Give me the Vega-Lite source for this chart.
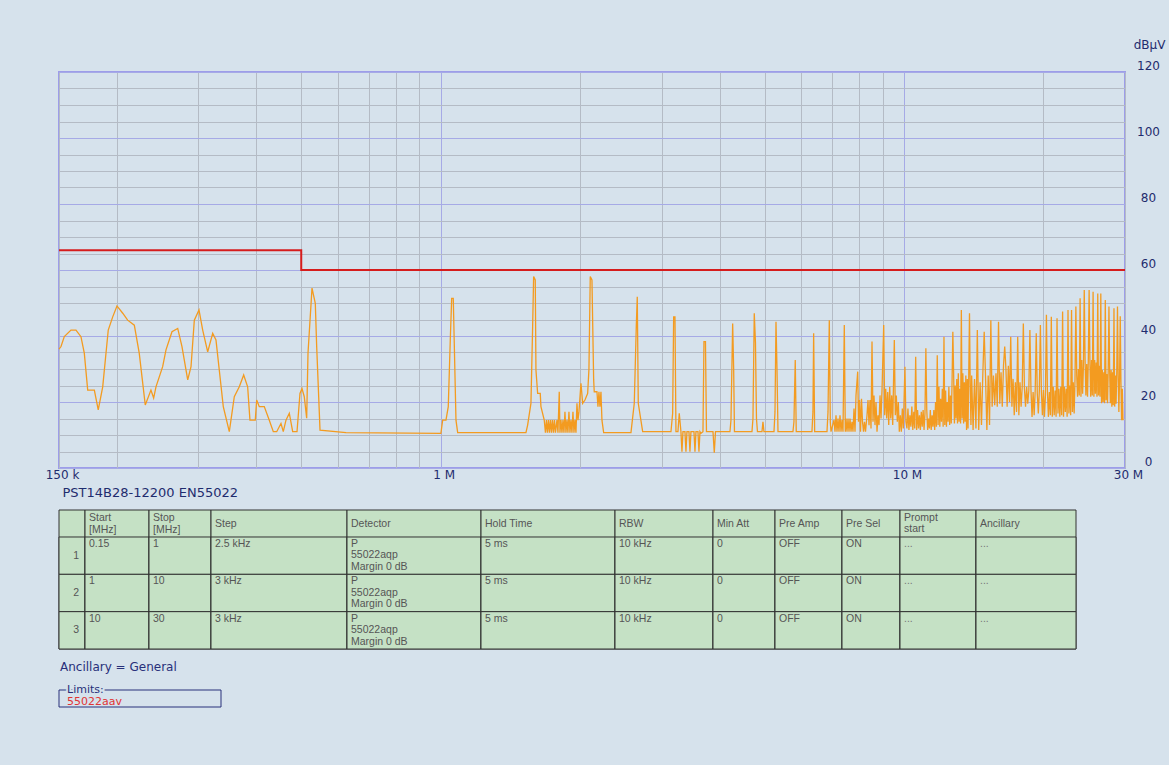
{
"$schema":"https://vega.github.io/schema/vega-lite/v6.json",
"padding":{"left":44,"top":37,"right":4,"bottom":57},
"background":"#d6e2ec",
"spacing":9,
"config":{"view":{"stroke":null},"font":"DejaVu Sans"},
"datasets":{
"trace":[
{"mhz":0.15,"dbuv":36},{"mhz":0.1515,"dbuv":36.8},{"mhz":0.154,"dbuv":39.8},{"mhz":0.1592,"dbuv":41.8},{"mhz":0.1632,"dbuv":41.8},{"mhz":0.1673,"dbuv":39.8},{"mhz":0.1701,"dbuv":34.8},{"mhz":0.173,"dbuv":23.6},{"mhz":0.1788,"dbuv":23.6},{"mhz":0.1823,"dbuv":17.6},{"mhz":0.1864,"dbuv":24.6},{"mhz":0.1916,"dbuv":41.8},{"mhz":0.1959,"dbuv":45.8},{"mhz":0.2001,"dbuv":49.1},{"mhz":0.2059,"dbuv":46.9},{"mhz":0.211,"dbuv":44.8},{"mhz":0.2181,"dbuv":43.3},{"mhz":0.2235,"dbuv":34.8},{"mhz":0.2303,"dbuv":19.1},{"mhz":0.2369,"dbuv":23.6},{"mhz":0.2401,"dbuv":21.2},{"mhz":0.2429,"dbuv":24.6},{"mhz":0.2511,"dbuv":30.7},{"mhz":0.2553,"dbuv":35.8},{"mhz":0.263,"dbuv":41.3},{"mhz":0.2706,"dbuv":42.3},{"mhz":0.2764,"dbuv":36.8},{"mhz":0.2844,"dbuv":26.7},{"mhz":0.2891,"dbuv":30.7},{"mhz":0.2939,"dbuv":44.8},{"mhz":0.3008,"dbuv":47.9},{"mhz":0.3064,"dbuv":41.8},{"mhz":0.3141,"dbuv":35.2},{"mhz":0.322,"dbuv":40.8},{"mhz":0.3273,"dbuv":38.8},{"mhz":0.3327,"dbuv":29.7},{"mhz":0.3394,"dbuv":18.6},{"mhz":0.3497,"dbuv":11},{"mhz":0.3585,"dbuv":21.6},{"mhz":0.3675,"dbuv":24.6},{"mhz":0.3756,"dbuv":28.2},{"mhz":0.3831,"dbuv":24.6},{"mhz":0.3875,"dbuv":14.5},{"mhz":0.3979,"dbuv":14.5},{"mhz":0.4007,"dbuv":20.6},{"mhz":0.4059,"dbuv":18.6},{"mhz":0.4161,"dbuv":18.6},{"mhz":0.4266,"dbuv":14.5},{"mhz":0.4352,"dbuv":11},{"mhz":0.4426,"dbuv":11},{"mhz":0.4521,"dbuv":13.5},{"mhz":0.4573,"dbuv":11},{"mhz":0.4635,"dbuv":14.5},{"mhz":0.4712,"dbuv":16.6},{"mhz":0.4792,"dbuv":11},{"mhz":0.4896,"dbuv":11},{"mhz":0.4969,"dbuv":22.6},{"mhz":0.5019,"dbuv":24.1},{"mhz":0.5076,"dbuv":21.6},{"mhz":0.5137,"dbuv":15.1},{"mhz":0.5171,"dbuv":34.8},{"mhz":0.5275,"dbuv":54.5},{"mhz":0.5362,"dbuv":49.9},{"mhz":0.5399,"dbuv":36.8},{"mhz":0.5489,"dbuv":11.5},{"mhz":0.6246,"dbuv":10.7},{"mhz":1.001,"dbuv":10.5},
{"mhz":1.0099,"dbuv":14.5},{"mhz":1.0266,"dbuv":14.5},{"mhz":1.0384,"dbuv":18.6},{"mhz":1.0488,"dbuv":38.8},{"mhz":1.0561,"dbuv":51.4},{"mhz":1.0645,"dbuv":51.4},{"mhz":1.0698,"dbuv":37.8},{"mhz":1.0789,"dbuv":14.5},{"mhz":1.0881,"dbuv":10.7},{"mhz":1.5276,"dbuv":10.7},{"mhz":1.5405,"dbuv":13},{"mhz":1.566,"dbuv":19.6},{"mhz":1.5793,"dbuv":42.8},{"mhz":1.5872,"dbuv":58},{"mhz":1.6,"dbuv":57},{"mhz":1.6055,"dbuv":29.7},{"mhz":1.6191,"dbuv":22.6},{"mhz":1.6402,"dbuv":22.6},{"mhz":1.6459,"dbuv":18.6},{"mhz":1.6732,"dbuv":14.5},
{"mhz":1.6832,"dbuv":10.7},{"mhz":1.6916,"dbuv":14.5},{"mhz":1.7,"dbuv":10.7},{"mhz":1.7085,"dbuv":14.5},{"mhz":1.717,"dbuv":10.7},{"mhz":1.7256,"dbuv":14.5},{"mhz":1.7342,"dbuv":10.7},{"mhz":1.7428,"dbuv":14.5},{"mhz":1.7515,"dbuv":10.7},{"mhz":1.7602,"dbuv":14.5},{"mhz":1.769,"dbuv":10.7},{"mhz":1.7822,"dbuv":14.5},{"mhz":1.7911,"dbuv":10.7},{"mhz":1.8027,"dbuv":23.1},{"mhz":1.809,"dbuv":10.7},{"mhz":1.818,"dbuv":14.5},{"mhz":1.8271,"dbuv":10.7},{"mhz":1.8362,"dbuv":14.5},{"mhz":1.8453,"dbuv":10.7},{"mhz":1.8545,"dbuv":17},{"mhz":1.8637,"dbuv":10.7},{"mhz":1.873,"dbuv":14.5},{"mhz":1.8823,"dbuv":10.7},{"mhz":1.8917,"dbuv":17},{"mhz":1.9011,"dbuv":10.7},{"mhz":1.9106,"dbuv":14.5},{"mhz":1.9201,"dbuv":10.7},{"mhz":1.9297,"dbuv":17},{"mhz":1.9393,"dbuv":10.7},{"mhz":1.949,"dbuv":14.5},{"mhz":1.9587,"dbuv":10.7},{"mhz":1.9685,"dbuv":19.6},{"mhz":1.9783,"dbuv":14.5},{"mhz":1.9881,"dbuv":17},{"mhz":2.008,"dbuv":25.7},{"mhz":2.025,"dbuv":19.6},{"mhz":2.0483,"dbuv":20.6},{"mhz":2.076,"dbuv":22.6},{"mhz":2.0894,"dbuv":30},{"mhz":2.103,"dbuv":58},{"mhz":2.1208,"dbuv":57},{"mhz":2.1389,"dbuv":26.7},{"mhz":2.1452,"dbuv":23.1},{"mhz":2.1742,"dbuv":23.1},{"mhz":2.1851,"dbuv":18.6},{"mhz":2.196,"dbuv":23.1},{"mhz":2.2069,"dbuv":18.6},{"mhz":2.2179,"dbuv":23.1},{"mhz":2.2289,"dbuv":14.5},{"mhz":2.2478,"dbuv":10.7},{"mhz":2.5747,"dbuv":10.7},{"mhz":2.6173,"dbuv":19.6},{"mhz":2.6434,"dbuv":42.8},{"mhz":2.6566,"dbuv":51.9},{"mhz":2.6698,"dbuv":19.6},{"mhz":2.7289,"dbuv":11},{"mhz":3.1408,"dbuv":11},{"mhz":3.1675,"dbuv":16.6},{"mhz":3.1832,"dbuv":45.8},{"mhz":3.2039,"dbuv":45.8},{"mhz":3.2198,"dbuv":11},{"mhz":3.2519,"dbuv":11},{"mhz":3.273,"dbuv":16.6},{"mhz":3.3007,"dbuv":11},{"mhz":3.3172,"dbuv":4.9},{"mhz":3.3337,"dbuv":11},{"mhz":3.367,"dbuv":11},{"mhz":3.3838,"dbuv":4.9},{"mhz":3.4007,"dbuv":11},{"mhz":3.4346,"dbuv":11},{"mhz":3.4517,"dbuv":4.9},{"mhz":3.4689,"dbuv":11},{"mhz":3.5212,"dbuv":11},{"mhz":3.5388,"dbuv":4.9},{"mhz":3.5564,"dbuv":11},{"mhz":3.592,"dbuv":11},{"mhz":3.6099,"dbuv":4.9},{"mhz":3.6279,"dbuv":11},{"mhz":3.646,"dbuv":10.5},
{"mhz":3.6824,"dbuv":11},{"mhz":3.7008,"dbuv":38.3},{"mhz":3.7284,"dbuv":38.3},{"mhz":3.747,"dbuv":11},{"mhz":3.8703,"dbuv":11},{"mhz":3.8954,"dbuv":4.6},{"mhz":3.9188,"dbuv":11},{"mhz":4.2113,"dbuv":11},{"mhz":4.2323,"dbuv":14.5},{"mhz":4.2681,"dbuv":43.8},{"mhz":4.2894,"dbuv":30},{"mhz":4.3065,"dbuv":11},{"mhz":4.6979,"dbuv":11},{"mhz":4.7213,"dbuv":15},{"mhz":4.7518,"dbuv":46.9},{"mhz":4.7802,"dbuv":38},{"mhz":4.804,"dbuv":15},{"mhz":4.828,"dbuv":11},{"mhz":4.9373,"dbuv":11},{"mhz":4.9619,"dbuv":14},{"mhz":4.9867,"dbuv":11},{"mhz":5.2413,"dbuv":11},{"mhz":5.2674,"dbuv":17},{"mhz":5.2937,"dbuv":44.3},{"mhz":5.3201,"dbuv":30},{"mhz":5.3466,"dbuv":11},{"mhz":5.7592,"dbuv":11},{"mhz":5.7879,"dbuv":14},{"mhz":5.8255,"dbuv":32.7},{"mhz":5.8545,"dbuv":11},{"mhz":6.3296,"dbuv":11},{"mhz":6.3611,"dbuv":17},{"mhz":6.3833,"dbuv":40.8},{"mhz":6.4151,"dbuv":11},{"mhz":6.8213,"dbuv":11},{"mhz":6.8553,"dbuv":17},{"mhz":6.8997,"dbuv":44.8},{"mhz":6.9341,"dbuv":14},{"mhz":6.9583,"dbuv":11},
{"mhz":7.0627,"dbuv":14.5},{"mhz":7.0979,"dbuv":11},{"mhz":7.1333,"dbuv":16},{"mhz":7.1688,"dbuv":11},{"mhz":7.2046,"dbuv":15},{"mhz":7.2405,"dbuv":11},{"mhz":7.2766,"dbuv":16},{"mhz":7.3128,"dbuv":11},{"mhz":7.3493,"dbuv":14.5},{"mhz":7.3859,"dbuv":11},{"mhz":7.4339,"dbuv":43.3},{"mhz":7.4709,"dbuv":11},{"mhz":7.497,"dbuv":15},{"mhz":7.5343,"dbuv":11},{"mhz":7.5719,"dbuv":15},{"mhz":7.6096,"dbuv":11},{"mhz":7.6475,"dbuv":15},{"mhz":7.6856,"dbuv":11},{"mhz":7.7239,"dbuv":14},{"mhz":7.7624,"dbuv":11},{"mhz":7.8011,"dbuv":18},{"mhz":7.84,"dbuv":11},{"mhz":7.8791,"dbuv":22},{"mhz":7.946,"dbuv":29.2},{"mhz":7.9777,"dbuv":14},{"mhz":8.0174,"dbuv":20.6},{"mhz":8.0574,"dbuv":11},{"mhz":8.0975,"dbuv":21},{"mhz":8.1379,"dbuv":14},{"mhz":8.1785,"dbuv":11},{"mhz":8.2192,"dbuv":14},{"mhz":8.2602,"dbuv":11},{"mhz":8.322,"dbuv":16},{"mhz":8.3635,"dbuv":20.6},{"mhz":8.4052,"dbuv":13},{"mhz":8.447,"dbuv":20.6},{"mhz":8.4891,"dbuv":12},{"mhz":8.5314,"dbuv":38.3},{"mhz":8.574,"dbuv":14},{"mhz":8.6167,"dbuv":22},{"mhz":8.6597,"dbuv":13},{"mhz":8.7028,"dbuv":20},{"mhz":8.7462,"dbuv":11},{"mhz":8.7898,"dbuv":16},{"mhz":8.8336,"dbuv":13},{"mhz":8.8776,"dbuv":22},{"mhz":8.9219,"dbuv":15},{"mhz":8.9663,"dbuv":23.6},{"mhz":9.0425,"dbuv":43.3},{"mhz":9.0875,"dbuv":16},{"mhz":9.1328,"dbuv":24},{"mhz":9.1783,"dbuv":15},{"mhz":9.2241,"dbuv":23},{"mhz":9.2701,"dbuv":13},{"mhz":9.3163,"dbuv":24.6},{"mhz":9.3627,"dbuv":15},{"mhz":9.4094,"dbuv":22},{"mhz":9.4563,"dbuv":13},{"mhz":9.5319,"dbuv":38.8},{"mhz":9.5794,"dbuv":16},{"mhz":9.6271,"dbuv":22},{"mhz":9.6751,"dbuv":14},{"mhz":9.7233,"dbuv":20},{"mhz":9.7718,"dbuv":11},{"mhz":9.8205,"dbuv":16},{"mhz":9.8694,"dbuv":11},{"mhz":9.9186,"dbuv":18},{"mhz":9.968,"dbuv":12},{"mhz":10.049,"dbuv":30.7},{"mhz":10.098,"dbuv":14},
{"mhz":10.15,"dbuv":12},{"mhz":10.2,"dbuv":18},{"mhz":10.25,"dbuv":11.5},{"mhz":10.3,"dbuv":16},{"mhz":10.35,"dbuv":12.5},{"mhz":10.4,"dbuv":18.6},{"mhz":10.45,"dbuv":11.5},{"mhz":10.5,"dbuv":17},{"mhz":10.55,"dbuv":12},{"mhz":10.6,"dbuv":33.7},{"mhz":10.65,"dbuv":11.5},{"mhz":10.7,"dbuv":17.6},{"mhz":10.75,"dbuv":12},{"mhz":10.8,"dbuv":16},{"mhz":10.85,"dbuv":11.5},{"mhz":10.9,"dbuv":17},{"mhz":10.95,"dbuv":12.5},{"mhz":11.0,"dbuv":17.6},{"mhz":11.05,"dbuv":11.5},{"mhz":11.1,"dbuv":16.5},{"mhz":11.15,"dbuv":36.3},{"mhz":11.2,"dbuv":17.6},{"mhz":11.25,"dbuv":11.5},{"mhz":11.3,"dbuv":15},{"mhz":11.35,"dbuv":12},{"mhz":11.4,"dbuv":17.6},{"mhz":11.45,"dbuv":11.5},{"mhz":11.5,"dbuv":16},{"mhz":11.55,"dbuv":12.5},{"mhz":11.6,"dbuv":17.6},{"mhz":11.65,"dbuv":11.5},{"mhz":11.7,"dbuv":20},{"mhz":11.75,"dbuv":12.5},{"mhz":11.8,"dbuv":34.2},{"mhz":11.85,"dbuv":13},{"mhz":11.9,"dbuv":24.6},{"mhz":11.95,"dbuv":12.5},{"mhz":12.0,"dbuv":21},{"mhz":12.05,"dbuv":14},{"mhz":12.1,"dbuv":24},{"mhz":12.15,"dbuv":12.5},{"mhz":12.2,"dbuv":39.8},{"mhz":12.25,"dbuv":13},{"mhz":12.3,"dbuv":23.5},{"mhz":12.35,"dbuv":12.5},{"mhz":12.4,"dbuv":20},{"mhz":12.45,"dbuv":14},{"mhz":12.5,"dbuv":24.6},{"mhz":12.55,"dbuv":13},{"mhz":12.6,"dbuv":22},{"mhz":12.65,"dbuv":13.5},{"mhz":12.7,"dbuv":26},{"mhz":12.75,"dbuv":41.3},{"mhz":12.8,"dbuv":28.7},{"mhz":12.85,"dbuv":13.5},{"mhz":12.9,"dbuv":25},{"mhz":12.95,"dbuv":15},{"mhz":13.0,"dbuv":27},{"mhz":13.05,"dbuv":13.5},{"mhz":13.1,"dbuv":28.7},{"mhz":13.15,"dbuv":14},{"mhz":13.2,"dbuv":24},{"mhz":13.25,"dbuv":13.5},{"mhz":13.3,"dbuv":47.9},{"mhz":13.35,"dbuv":15},{"mhz":13.4,"dbuv":28.7},{"mhz":13.45,"dbuv":13.5},{"mhz":13.5,"dbuv":26},{"mhz":13.55,"dbuv":14},{"mhz":13.6,"dbuv":28},{"mhz":13.65,"dbuv":11.5},{"mhz":13.7,"dbuv":27},{"mhz":13.75,"dbuv":12},{"mhz":13.8,"dbuv":28.7},{"mhz":13.85,"dbuv":46.9},{"mhz":13.9,"dbuv":25},{"mhz":13.95,"dbuv":13},{"mhz":14.0,"dbuv":28},
{"mhz":14.1,"dbuv":11.5},{"mhz":14.2,"dbuv":27},{"mhz":14.3,"dbuv":12},{"mhz":14.4,"dbuv":41.8},{"mhz":14.5,"dbuv":11.5},{"mhz":14.6,"dbuv":26},{"mhz":14.7,"dbuv":13},{"mhz":14.8,"dbuv":28.7},{"mhz":14.9,"dbuv":41.3},{"mhz":15.0,"dbuv":27.5},{"mhz":15.1,"dbuv":11.5},{"mhz":15.2,"dbuv":28},{"mhz":15.3,"dbuv":13},{"mhz":15.4,"dbuv":44.8},{"mhz":15.5,"dbuv":18.6},{"mhz":15.6,"dbuv":28},{"mhz":15.7,"dbuv":19},{"mhz":15.8,"dbuv":28.7},{"mhz":15.9,"dbuv":18.6},{"mhz":16.0,"dbuv":44.3},{"mhz":16.1,"dbuv":19.5},{"mhz":16.2,"dbuv":29},{"mhz":16.3,"dbuv":18.6},{"mhz":16.4,"dbuv":31},{"mhz":16.5,"dbuv":36.8},{"mhz":16.6,"dbuv":30},{"mhz":16.7,"dbuv":18.6},{"mhz":16.8,"dbuv":31},{"mhz":16.9,"dbuv":20},{"mhz":17.0,"dbuv":39.8},{"mhz":17.1,"dbuv":18.6},{"mhz":17.2,"dbuv":27},{"mhz":17.3,"dbuv":16},{"mhz":17.4,"dbuv":26},{"mhz":17.5,"dbuv":17},{"mhz":17.6,"dbuv":39.8},{"mhz":17.7,"dbuv":16},{"mhz":17.8,"dbuv":26},{"mhz":17.9,"dbuv":18.6},{"mhz":18.0,"dbuv":24.6},{"mhz":18.1,"dbuv":43.8},{"mhz":18.2,"dbuv":24},{"mhz":18.3,"dbuv":18.6},{"mhz":18.4,"dbuv":24.6},{"mhz":18.5,"dbuv":19.5},{"mhz":18.6,"dbuv":23.5},{"mhz":18.7,"dbuv":41.8},{"mhz":18.8,"dbuv":23.6},{"mhz":18.9,"dbuv":15.5},{"mhz":19.0,"dbuv":23},{"mhz":19.1,"dbuv":16},{"mhz":19.2,"dbuv":23.6},{"mhz":19.3,"dbuv":40.8},{"mhz":19.4,"dbuv":22.5},{"mhz":19.5,"dbuv":16.5},{"mhz":19.6,"dbuv":23.6},{"mhz":19.7,"dbuv":43.3},{"mhz":19.8,"dbuv":23},{"mhz":19.9,"dbuv":16},{"mhz":20.0,"dbuv":23.6},{"mhz":20.1,"dbuv":15.5},{"mhz":20.2,"dbuv":22},{"mhz":20.3,"dbuv":46.4},{"mhz":20.4,"dbuv":23.6},{"mhz":20.5,"dbuv":15.5},{"mhz":20.6,"dbuv":23},{"mhz":20.7,"dbuv":16},{"mhz":20.8,"dbuv":45.8},{"mhz":20.9,"dbuv":15.5},{"mhz":21.0,"dbuv":24.6},{"mhz":21.1,"dbuv":16},{"mhz":21.2,"dbuv":23.5},{"mhz":21.3,"dbuv":15.5},{"mhz":21.4,"dbuv":45.4},{"mhz":21.5,"dbuv":16.5},{"mhz":21.6,"dbuv":24},{"mhz":21.7,"dbuv":15.5},{"mhz":21.8,"dbuv":24.6},{"mhz":21.9,"dbuv":16},{"mhz":22.0,"dbuv":47.4},{"mhz":22.1,"dbuv":15.5},{"mhz":22.2,"dbuv":24.6},{"mhz":22.3,"dbuv":17},{"mhz":22.4,"dbuv":24},{"mhz":22.5,"dbuv":15.5},{"mhz":22.6,"dbuv":47.9},{"mhz":22.7,"dbuv":16.5},{"mhz":22.8,"dbuv":25},{"mhz":22.9,"dbuv":16},{"mhz":23.0,"dbuv":47.9},{"mhz":23.1,"dbuv":17},{"mhz":23.2,"dbuv":26},{"mhz":23.3,"dbuv":16.5},{"mhz":23.4,"dbuv":27},{"mhz":23.5,"dbuv":48.9},{"mhz":23.6,"dbuv":28},{"mhz":23.7,"dbuv":21.6},{"mhz":23.8,"dbuv":30},{"mhz":23.9,"dbuv":22},{"mhz":24.0,"dbuv":51.4},{"mhz":24.1,"dbuv":21.6},{"mhz":24.2,"dbuv":32.7},{"mhz":24.3,"dbuv":22.5},{"mhz":24.4,"dbuv":31},{"mhz":24.5,"dbuv":53.9},{"mhz":24.6,"dbuv":32.7},{"mhz":24.7,"dbuv":22},{"mhz":24.8,"dbuv":31.5},{"mhz":24.9,"dbuv":21.6},{"mhz":25.0,"dbuv":32.7},{"mhz":25.1,"dbuv":53.9},{"mhz":25.2,"dbuv":32},{"mhz":25.3,"dbuv":21.6},{"mhz":25.4,"dbuv":32.7},{"mhz":25.5,"dbuv":22},{"mhz":25.6,"dbuv":53.4},{"mhz":25.7,"dbuv":21.6},{"mhz":25.8,"dbuv":32.7},{"mhz":25.9,"dbuv":22.5},{"mhz":26.0,"dbuv":32},{"mhz":26.1,"dbuv":21.6},{"mhz":26.2,"dbuv":52.9},{"mhz":26.3,"dbuv":22},{"mhz":26.4,"dbuv":31},{"mhz":26.5,"dbuv":21.6},{"mhz":26.6,"dbuv":52.9},{"mhz":26.7,"dbuv":19.6},{"mhz":26.8,"dbuv":29.7},{"mhz":26.9,"dbuv":20},{"mhz":27.0,"dbuv":29},{"mhz":27.1,"dbuv":19.6},{"mhz":27.2,"dbuv":50.9},{"mhz":27.3,"dbuv":20.5},{"mhz":27.4,"dbuv":28.5},{"mhz":27.5,"dbuv":19.6},{"mhz":27.6,"dbuv":29.7},{"mhz":27.7,"dbuv":48.9},{"mhz":27.8,"dbuv":29},{"mhz":27.9,"dbuv":19.6},{"mhz":28.0,"dbuv":29.7},{"mhz":28.1,"dbuv":18.6},{"mhz":28.2,"dbuv":29},{"mhz":28.3,"dbuv":19},{"mhz":28.4,"dbuv":48.4},{"mhz":28.5,"dbuv":18.6},{"mhz":28.6,"dbuv":28},{"mhz":28.7,"dbuv":19.5},{"mhz":28.8,"dbuv":29.7},{"mhz":28.9,"dbuv":48.9},{"mhz":29.0,"dbuv":28},{"mhz":29.1,"dbuv":17},{"mhz":29.2,"dbuv":27},{"mhz":29.3,"dbuv":46},{"mhz":29.4,"dbuv":26},{"mhz":29.5,"dbuv":14.5},{"mhz":29.6,"dbuv":24},{"mhz":29.7,"dbuv":14.5}
],
"limit":[{"mhz":0.15,"dbuv":66},{"mhz":0.5,"dbuv":60},{"mhz":30,"dbuv":60}],
"hdr":[{"n":"","start":"Start\n[MHz]","stop":"Stop\n[MHz]","step":"Step","det":"Detector","hold":"Hold Time","rbw":"RBW","att":"Min Att","amp":"Pre Amp","sel":"Pre Sel","prompt":"Prompt\nstart","anc":"Ancillary"}],
"rows":[
{"n":"1","start":"0.15","stop":"1","step":"2.5 kHz","det":"P\n55022aqp\nMargin 0 dB","hold":"5 ms","rbw":"10 kHz","att":"0","amp":"OFF","sel":"ON","prompt":"...","anc":"..."},
{"n":"2","start":"1","stop":"10","step":"3 kHz","det":"P\n55022aqp\nMargin 0 dB","hold":"5 ms","rbw":"10 kHz","att":"0","amp":"OFF","sel":"ON","prompt":"...","anc":"..."},
{"n":"3","start":"10","stop":"30","step":"3 kHz","det":"P\n55022aqp\nMargin 0 dB","hold":"5 ms","rbw":"10 kHz","att":"0","amp":"OFF","sel":"ON","prompt":"...","anc":"..."}],
"notes":[{"anc":"Ancillary = General","lim":"Limits:","std":"55022aav"}]
},
"vconcat":[
{"width":1066,"height":396,
"view":{"stroke":"#9d9de9","strokeWidth":2,"fill":"#d6e2ec"},
"encoding":{
"x":{"field":"mhz","type":"quantitative","scale":{"type":"log","domain":[0.15,30],"nice":false},
"axis":{"values":[0.15,0.2,0.3,0.4,0.5,0.6,0.7,0.8,0.9,1,2,3,4,5,6,7,8,9,10,20,30],"grid":true,"gridColor":{"condition":{"test":"datum.value == 1 || datum.value == 10","value":"#a6aae6"},"value":"#b4bbc5"},"ticks":false,"domain":false,
"labelExpr":"datum.value == 0.15 ? '150 k' : datum.value == 1 ? '1 M' : datum.value == 10 ? '10 M' : datum.value == 30 ? '30 M' : ''",
"labelPadding":1,"labelOffset":3,"labelFontSize":12,"labelFont":"DejaVu Sans","labelColor":"#1f2c6e","labelFlush":false,"labelOverlap":false,"labelBound":false,
"title":"PST14B28-12200 EN55022","titleAnchor":"start","titleAlign":"left","titleX":3,"titlePadding":6,"titleFontSize":13,"titleFontWeight":"normal","titleFont":"DejaVu Sans","titleColor":"#1f2c6e"}},
"y":{"field":"dbuv","type":"quantitative","scale":{"domain":[0,120],"nice":false},
"axis":{"orient":"right","values":[0,5,10,15,20,25,30,35,40,45,50,55,60,65,70,75,80,85,90,95,100,105,110,115,120],"grid":true,"gridColor":{"condition":{"test":"datum.value % 20 == 0","value":"#a6aae6"},"value":"#b4bbc5"},"ticks":false,"domain":false,
"labelExpr":"datum.value % 20 == 0 ? datum.label : ''","labelAlign":"center","labelBaseline":"bottom","labelPadding":23,"labelFontSize":12,"labelFont":"DejaVu Sans","labelColor":"#1f2c6e","labelFlush":false,"labelOverlap":false,
"title":"dBµV","titleAngle":0,"titleX":24,"titleY":-28,"titleAlign":"center","titleBaseline":"middle","titleFontSize":12,"titleFontWeight":"normal","titleFont":"DejaVu Sans","titleColor":"#1f2c6e"}}
},
"layer":[
{"data":{"name":"trace"},"mark":{"type":"line","color":"#f39b20","strokeWidth":1.3}},
{"data":{"name":"limit"},"mark":{"type":"line","color":"#d61c1c","strokeWidth":2,"interpolate":"step-after"}}
]},
{"hconcat":[
{"width":26,"height":139,"layer":[
{"data":{"name":"hdr"},"mark":{"type":"rect","fill":"#c5e1c5","stroke":"#333333","strokeWidth":1},"encoding":{}},
{"data":{"name":"rows"},"mark":{"type":"rect","fill":"#c5e1c5","stroke":"#333333","strokeWidth":1},"encoding":{"y":{"field":"n","type":"nominal","axis":null,"scale":{"paddingInner":0,"paddingOuter":0.3616,"align":1}}}},
{"data":{"name":"rows"},"mark":{"type":"text","align":"right","baseline":"middle","dx":7,"fontSize":10.5,"font":"Liberation Sans","fill":"#555555"},"encoding":{"y":{"field":"n","type":"nominal","axis":null},"text":{"field":"n"}}}]},
{"width":64,"height":139,"layer":[
{"data":{"name":"hdr"},"mark":{"type":"rect","fill":"#c5e1c5","stroke":"#333333","strokeWidth":1},"encoding":{}},
{"data":{"name":"rows"},"mark":{"type":"rect","fill":"#c5e1c5","stroke":"#333333","strokeWidth":1},"encoding":{"y":{"field":"n","type":"nominal","axis":null,"scale":{"paddingInner":0,"paddingOuter":0.3616,"align":1}}}},
{"data":{"name":"hdr"},"mark":{"type":"text","align":"left","baseline":"middle","dx":-28,"dy":-62,"fontSize":10.5,"font":"Liberation Sans","fill":"#555555","lineBreak":"\n","lineHeight":12},"encoding":{"text":{"field":"start"}}},
{"data":{"name":"rows"},"mark":{"type":"text","align":"left","baseline":"top","dx":-28,"dy":2,"fontSize":10.5,"font":"Liberation Sans","fill":"#555555","lineBreak":"\n","lineHeight":11.5},"encoding":{"y":{"field":"n","type":"nominal","axis":null,"bandPosition":0},"text":{"field":"start"}}}]},
{"width":62,"height":139,"layer":[
{"data":{"name":"hdr"},"mark":{"type":"rect","fill":"#c5e1c5","stroke":"#333333","strokeWidth":1},"encoding":{}},
{"data":{"name":"rows"},"mark":{"type":"rect","fill":"#c5e1c5","stroke":"#333333","strokeWidth":1},"encoding":{"y":{"field":"n","type":"nominal","axis":null,"scale":{"paddingInner":0,"paddingOuter":0.3616,"align":1}}}},
{"data":{"name":"hdr"},"mark":{"type":"text","align":"left","baseline":"middle","dx":-27,"dy":-62,"fontSize":10.5,"font":"Liberation Sans","fill":"#555555","lineBreak":"\n","lineHeight":12},"encoding":{"text":{"field":"stop"}}},
{"data":{"name":"rows"},"mark":{"type":"text","align":"left","baseline":"top","dx":-27,"dy":2,"fontSize":10.5,"font":"Liberation Sans","fill":"#555555","lineBreak":"\n","lineHeight":11.5},"encoding":{"y":{"field":"n","type":"nominal","axis":null,"bandPosition":0},"text":{"field":"stop"}}}]},
{"width":136,"height":139,"layer":[
{"data":{"name":"hdr"},"mark":{"type":"rect","fill":"#c5e1c5","stroke":"#333333","strokeWidth":1},"encoding":{}},
{"data":{"name":"rows"},"mark":{"type":"rect","fill":"#c5e1c5","stroke":"#333333","strokeWidth":1},"encoding":{"y":{"field":"n","type":"nominal","axis":null,"scale":{"paddingInner":0,"paddingOuter":0.3616,"align":1}}}},
{"data":{"name":"hdr"},"mark":{"type":"text","align":"left","baseline":"middle","dx":-64,"dy":-56,"fontSize":10.5,"font":"Liberation Sans","fill":"#555555","lineBreak":"\n","lineHeight":12},"encoding":{"text":{"field":"step"}}},
{"data":{"name":"rows"},"mark":{"type":"text","align":"left","baseline":"top","dx":-64,"dy":2,"fontSize":10.5,"font":"Liberation Sans","fill":"#555555","lineBreak":"\n","lineHeight":11.5},"encoding":{"y":{"field":"n","type":"nominal","axis":null,"bandPosition":0},"text":{"field":"step"}}}]},
{"width":134,"height":139,"layer":[
{"data":{"name":"hdr"},"mark":{"type":"rect","fill":"#c5e1c5","stroke":"#333333","strokeWidth":1},"encoding":{}},
{"data":{"name":"rows"},"mark":{"type":"rect","fill":"#c5e1c5","stroke":"#333333","strokeWidth":1},"encoding":{"y":{"field":"n","type":"nominal","axis":null,"scale":{"paddingInner":0,"paddingOuter":0.3616,"align":1}}}},
{"data":{"name":"hdr"},"mark":{"type":"text","align":"left","baseline":"middle","dx":-63,"dy":-56,"fontSize":10.5,"font":"Liberation Sans","fill":"#555555","lineBreak":"\n","lineHeight":12},"encoding":{"text":{"field":"det"}}},
{"data":{"name":"rows"},"mark":{"type":"text","align":"left","baseline":"top","dx":-63,"dy":2,"fontSize":10.5,"font":"Liberation Sans","fill":"#555555","lineBreak":"\n","lineHeight":11.5},"encoding":{"y":{"field":"n","type":"nominal","axis":null,"bandPosition":0},"text":{"field":"det"}}}]},
{"width":134,"height":139,"layer":[
{"data":{"name":"hdr"},"mark":{"type":"rect","fill":"#c5e1c5","stroke":"#333333","strokeWidth":1},"encoding":{}},
{"data":{"name":"rows"},"mark":{"type":"rect","fill":"#c5e1c5","stroke":"#333333","strokeWidth":1},"encoding":{"y":{"field":"n","type":"nominal","axis":null,"scale":{"paddingInner":0,"paddingOuter":0.3616,"align":1}}}},
{"data":{"name":"hdr"},"mark":{"type":"text","align":"left","baseline":"middle","dx":-63,"dy":-56,"fontSize":10.5,"font":"Liberation Sans","fill":"#555555","lineBreak":"\n","lineHeight":12},"encoding":{"text":{"field":"hold"}}},
{"data":{"name":"rows"},"mark":{"type":"text","align":"left","baseline":"top","dx":-63,"dy":2,"fontSize":10.5,"font":"Liberation Sans","fill":"#555555","lineBreak":"\n","lineHeight":11.5},"encoding":{"y":{"field":"n","type":"nominal","axis":null,"bandPosition":0},"text":{"field":"hold"}}}]},
{"width":98,"height":139,"layer":[
{"data":{"name":"hdr"},"mark":{"type":"rect","fill":"#c5e1c5","stroke":"#333333","strokeWidth":1},"encoding":{}},
{"data":{"name":"rows"},"mark":{"type":"rect","fill":"#c5e1c5","stroke":"#333333","strokeWidth":1},"encoding":{"y":{"field":"n","type":"nominal","axis":null,"scale":{"paddingInner":0,"paddingOuter":0.3616,"align":1}}}},
{"data":{"name":"hdr"},"mark":{"type":"text","align":"left","baseline":"middle","dx":-45,"dy":-56,"fontSize":10.5,"font":"Liberation Sans","fill":"#555555","lineBreak":"\n","lineHeight":12},"encoding":{"text":{"field":"rbw"}}},
{"data":{"name":"rows"},"mark":{"type":"text","align":"left","baseline":"top","dx":-45,"dy":2,"fontSize":10.5,"font":"Liberation Sans","fill":"#555555","lineBreak":"\n","lineHeight":11.5},"encoding":{"y":{"field":"n","type":"nominal","axis":null,"bandPosition":0},"text":{"field":"rbw"}}}]},
{"width":62,"height":139,"layer":[
{"data":{"name":"hdr"},"mark":{"type":"rect","fill":"#c5e1c5","stroke":"#333333","strokeWidth":1},"encoding":{}},
{"data":{"name":"rows"},"mark":{"type":"rect","fill":"#c5e1c5","stroke":"#333333","strokeWidth":1},"encoding":{"y":{"field":"n","type":"nominal","axis":null,"scale":{"paddingInner":0,"paddingOuter":0.3616,"align":1}}}},
{"data":{"name":"hdr"},"mark":{"type":"text","align":"left","baseline":"middle","dx":-27,"dy":-56,"fontSize":10.5,"font":"Liberation Sans","fill":"#555555","lineBreak":"\n","lineHeight":12},"encoding":{"text":{"field":"att"}}},
{"data":{"name":"rows"},"mark":{"type":"text","align":"left","baseline":"top","dx":-27,"dy":2,"fontSize":10.5,"font":"Liberation Sans","fill":"#555555","lineBreak":"\n","lineHeight":11.5},"encoding":{"y":{"field":"n","type":"nominal","axis":null,"bandPosition":0},"text":{"field":"att"}}}]},
{"width":67,"height":139,"layer":[
{"data":{"name":"hdr"},"mark":{"type":"rect","fill":"#c5e1c5","stroke":"#333333","strokeWidth":1},"encoding":{}},
{"data":{"name":"rows"},"mark":{"type":"rect","fill":"#c5e1c5","stroke":"#333333","strokeWidth":1},"encoding":{"y":{"field":"n","type":"nominal","axis":null,"scale":{"paddingInner":0,"paddingOuter":0.3616,"align":1}}}},
{"data":{"name":"hdr"},"mark":{"type":"text","align":"left","baseline":"middle","dx":-29.5,"dy":-56,"fontSize":10.5,"font":"Liberation Sans","fill":"#555555","lineBreak":"\n","lineHeight":12},"encoding":{"text":{"field":"amp"}}},
{"data":{"name":"rows"},"mark":{"type":"text","align":"left","baseline":"top","dx":-29.5,"dy":2,"fontSize":10.5,"font":"Liberation Sans","fill":"#555555","lineBreak":"\n","lineHeight":11.5},"encoding":{"y":{"field":"n","type":"nominal","axis":null,"bandPosition":0},"text":{"field":"amp"}}}]},
{"width":58,"height":139,"layer":[
{"data":{"name":"hdr"},"mark":{"type":"rect","fill":"#c5e1c5","stroke":"#333333","strokeWidth":1},"encoding":{}},
{"data":{"name":"rows"},"mark":{"type":"rect","fill":"#c5e1c5","stroke":"#333333","strokeWidth":1},"encoding":{"y":{"field":"n","type":"nominal","axis":null,"scale":{"paddingInner":0,"paddingOuter":0.3616,"align":1}}}},
{"data":{"name":"hdr"},"mark":{"type":"text","align":"left","baseline":"middle","dx":-25,"dy":-56,"fontSize":10.5,"font":"Liberation Sans","fill":"#555555","lineBreak":"\n","lineHeight":12},"encoding":{"text":{"field":"sel"}}},
{"data":{"name":"rows"},"mark":{"type":"text","align":"left","baseline":"top","dx":-25,"dy":2,"fontSize":10.5,"font":"Liberation Sans","fill":"#555555","lineBreak":"\n","lineHeight":11.5},"encoding":{"y":{"field":"n","type":"nominal","axis":null,"bandPosition":0},"text":{"field":"sel"}}}]},
{"width":76,"height":139,"layer":[
{"data":{"name":"hdr"},"mark":{"type":"rect","fill":"#c5e1c5","stroke":"#333333","strokeWidth":1},"encoding":{}},
{"data":{"name":"rows"},"mark":{"type":"rect","fill":"#c5e1c5","stroke":"#333333","strokeWidth":1},"encoding":{"y":{"field":"n","type":"nominal","axis":null,"scale":{"paddingInner":0,"paddingOuter":0.3616,"align":1}}}},
{"data":{"name":"hdr"},"mark":{"type":"text","align":"left","baseline":"middle","dx":-34,"dy":-62,"fontSize":10.5,"font":"Liberation Sans","fill":"#555555","lineBreak":"\n","lineHeight":11},"encoding":{"text":{"field":"prompt"}}},
{"data":{"name":"rows"},"mark":{"type":"text","align":"left","baseline":"top","dx":-34,"dy":2,"fontSize":10.5,"font":"Liberation Sans","fill":"#777777","lineBreak":"\n","lineHeight":11.5},"encoding":{"y":{"field":"n","type":"nominal","axis":null,"bandPosition":0},"text":{"field":"prompt"}}}]},
{"width":100,"height":139,"layer":[
{"data":{"name":"hdr"},"mark":{"type":"rect","fill":"#c5e1c5","stroke":"#333333","strokeWidth":1},"encoding":{}},
{"data":{"name":"rows"},"mark":{"type":"rect","fill":"#c5e1c5","stroke":"#333333","strokeWidth":1},"encoding":{"y":{"field":"n","type":"nominal","axis":null,"scale":{"paddingInner":0,"paddingOuter":0.3616,"align":1}}}},
{"data":{"name":"hdr"},"mark":{"type":"text","align":"left","baseline":"middle","dx":-46,"dy":-56,"fontSize":10.5,"font":"Liberation Sans","fill":"#555555","lineBreak":"\n","lineHeight":12},"encoding":{"text":{"field":"anc"}}},
{"data":{"name":"rows"},"mark":{"type":"text","align":"left","baseline":"top","dx":-46,"dy":2,"fontSize":10.5,"font":"Liberation Sans","fill":"#777777","lineBreak":"\n","lineHeight":11.5},"encoding":{"y":{"field":"n","type":"nominal","axis":null,"bandPosition":0},"text":{"field":"anc"}}}]}
],"spacing":0,"bounds":"flush"},
{"width":300,"height":16,"data":{"name":"notes"},"mark":{"type":"text","align":"left","baseline":"middle","dx":-149,"fontSize":12,"font":"DejaVu Sans","fill":"#28307a"},"encoding":{"text":{"field":"anc"}}},
{"width":162,"height":17,"data":{"name":"notes"},"layer":[
{"mark":{"type":"rect","fill":null,"stroke":"#28307a","strokeWidth":1},"encoding":{}},
{"mark":{"type":"text","align":"left","baseline":"middle","dx":-73,"dy":-8.5,"fontSize":11,"font":"DejaVu Sans","fill":"#d6e2ec","stroke":"#d6e2ec","strokeWidth":4},"encoding":{"text":{"field":"lim"}}},
{"mark":{"type":"text","align":"left","baseline":"middle","dx":-73,"dy":-8.5,"fontSize":11,"font":"DejaVu Sans","fill":"#28307a"},"encoding":{"text":{"field":"lim"}}},
{"mark":{"type":"text","align":"left","baseline":"middle","dx":-73,"dy":3.5,"fontSize":11,"font":"DejaVu Sans","fill":"#e03434"},"encoding":{"text":{"field":"std"}}}
]}
]
}
